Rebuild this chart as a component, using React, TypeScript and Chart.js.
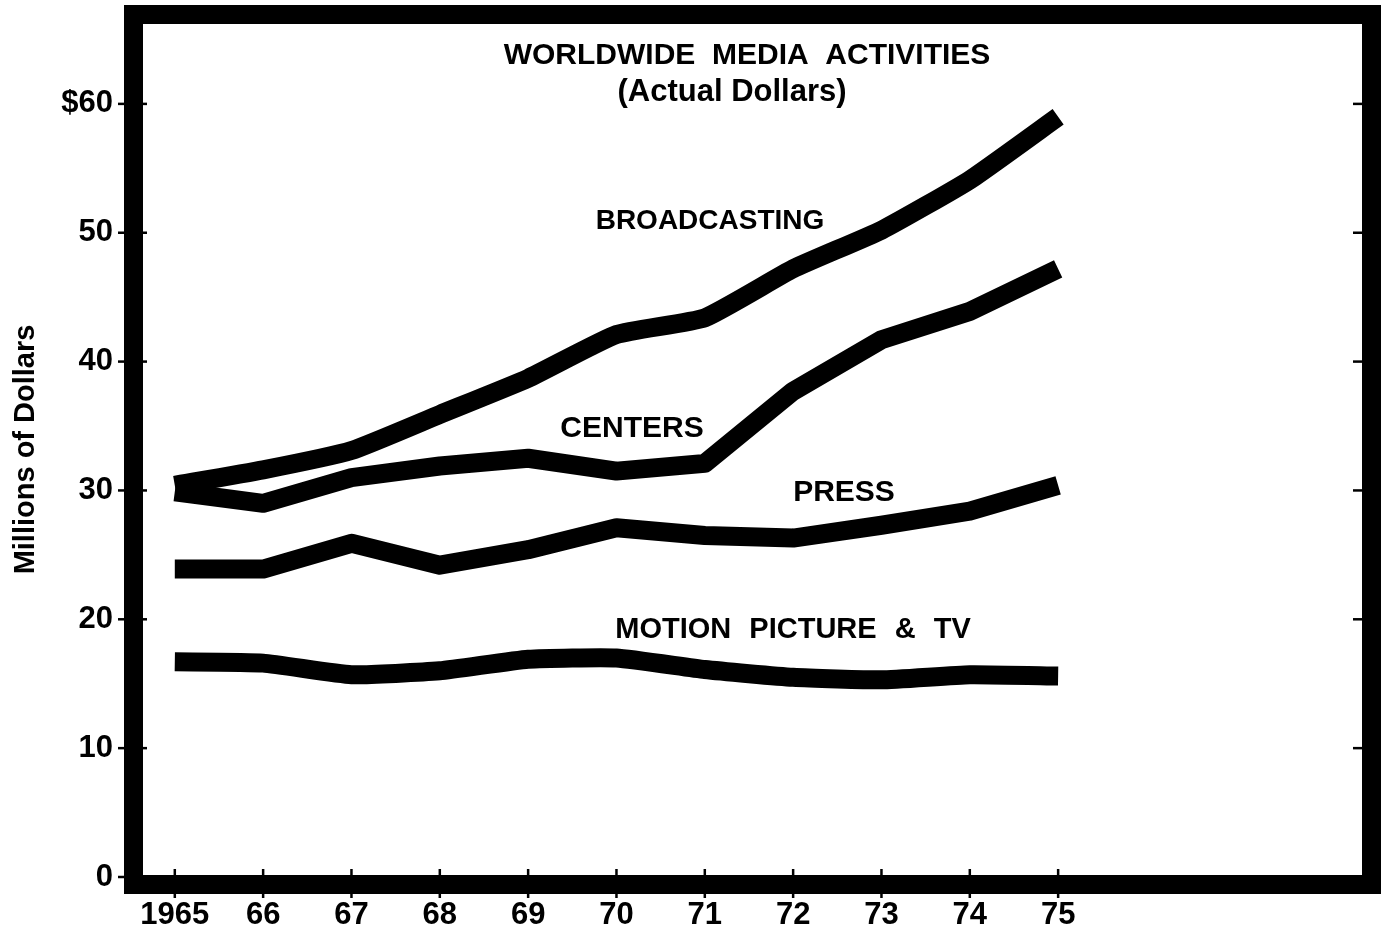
import React, { useEffect, useRef } from "react";
import { Chart, registerables } from "chart.js";

Chart.register(...registerables);

// ---------- data ----------
const years = [1965, 1966, 1967, 1968, 1969, 1970, 1971, 1972, 1973, 1974, 1975];
const yearLabels = ["1965", "66", "67", "68", "69", "70", "71", "72", "73", "74", "75"];

const broadcasting = [30.4, 31.6, 33.1, 35.9, 38.7, 42.1, 43.4, 47.2, 50.2, 54.1, 59.0];
const centers = [29.9, 29.0, 31.0, 31.9, 32.5, 31.5, 32.1, 37.7, 41.7, 43.9, 47.2];
const press = [23.9, 23.9, 25.9, 24.2, 25.4, 27.1, 26.5, 26.3, 27.3, 28.4, 30.4];
const motionPictureTv = [16.7, 16.6, 15.7, 16.0, 16.9, 17.0, 16.1, 15.5, 15.3, 15.7, 15.6];

const yTickValues = [0, 10, 20, 30, 40, 50, 60];
const yTickLabels = ["0", "10", "20", "30", "40", "50", "$60"];

const seriesNames = ["BROADCASTING", "CENTERS", "PRESS", "MOTION PICTURE & TV"];
const titleLines = ["WORLDWIDE  MEDIA  ACTIVITIES", "(Actual Dollars)"];
const yAxisTitle = "Millions of Dollars";

// ---------- layout / style (pixels) ----------
const W = 1383;
const H = 934;
const FONT = "'Liberation Sans', Arial, sans-serif";
const LINE_W = 19;
const FRAME_W = 19;

// label anchors in canvas pixels (centre x, centre y) and styles
const seriesLabelStyle = [
  { x: 710, y: 221, size: 28, wordSpacing: 0 },
  { x: 632, y: 429, size: 30, wordSpacing: 0 },
  { x: 844, y: 493, size: 30, wordSpacing: 0 },
  { x: 793, y: 630, size: 29, wordSpacing: 10 },
];
const titleStyle = [
  { x: 747, y: 56, size: 30 },
  { x: 732, y: 92, size: 31 },
];

const framePlugin = {
  id: "framePlugin",
  afterDraw(chart: any) {
    const { ctx, chartArea: a, scales } = chart;
    ctx.save();
    ctx.strokeStyle = "#000";
    ctx.fillStyle = "#000";
    ctx.lineCap = "butt";

    // tick marks
    ctx.lineWidth = 2.5;
    for (const v of yTickValues) {
      const y = scales.y.getPixelForValue(v);
      ctx.beginPath();
      ctx.moveTo(a.left - 25, y);
      ctx.lineTo(a.left + 4, y);
      ctx.stroke();
      ctx.beginPath();
      ctx.moveTo(a.right - 9, y);
      ctx.lineTo(a.right + 1, y);
      ctx.stroke();
    }
    for (const v of years) {
      const x = scales.x.getPixelForValue(v);
      ctx.beginPath();
      ctx.moveTo(x, a.bottom - 6);
      ctx.lineTo(x, a.bottom + 23);
      ctx.stroke();
    }

    // heavy frame
    ctx.lineWidth = FRAME_W;
    ctx.lineJoin = "miter";
    ctx.strokeRect(
      a.left - FRAME_W / 2,
      a.top - FRAME_W / 2,
      a.right - a.left + FRAME_W,
      a.bottom - a.top + FRAME_W
    );

    // texts
    ctx.textAlign = "center";
    ctx.textBaseline = "middle";
    titleLines.forEach((t, i) => {
      const s = titleStyle[i];
      ctx.font = `bold ${s.size}px ${FONT}`;
      ctx.fillText(t, s.x, s.y);
    });
    seriesNames.forEach((t, i) => {
      const s = seriesLabelStyle[i];
      ctx.font = `bold ${s.size}px ${FONT}`;
      (ctx as any).wordSpacing = `${s.wordSpacing}px`;
      ctx.fillText(t, s.x, s.y);
    });
    (ctx as any).wordSpacing = "0px";
    ctx.restore();
  },
};

export default function App() {
  const ref = useRef<HTMLCanvasElement | null>(null);

  useEffect(() => {
    if (!ref.current) return;
    const mk = (data: number[], tension: number) => ({
      data: years.map((x, i) => ({ x, y: data[i] })),
      borderColor: "#000",
      backgroundColor: "#000",
      borderWidth: LINE_W,
      borderCapStyle: "butt" as const,
      borderJoinStyle: "round" as const,
      pointRadius: 0,
      pointHoverRadius: 0,
      tension,
      fill: false,
    });
    const chart = new Chart(ref.current, {
      type: "line",
      data: {
        datasets: [
          { label: seriesNames[0], ...mk(broadcasting, 0.15) },
          { label: seriesNames[1], ...mk(centers, 0) },
          { label: seriesNames[2], ...mk(press, 0) },
          { label: seriesNames[3], ...mk(motionPictureTv, 0.15) },
        ],
      },
      options: {
        responsive: false,
        animation: false,
        events: [],
        layout: { padding: { top: 24, right: 21, left: 0, bottom: 0 } },
        plugins: {
          legend: { display: false },
          tooltip: { enabled: false },
          title: { display: false },
        },
        scales: {
          x: {
            type: "linear",
            min: 1964.64,
            max: 1978.44,
            grid: { display: false, drawTicks: false, tickLength: 0 },
            border: { display: false },
            afterBuildTicks: (scale: any) => {
              scale.ticks = years.map((v) => ({ value: v }));
            },
            afterFit: (scale: any) => {
              scale.height = 59;
              scale.paddingLeft = 0;
              scale.paddingRight = 0;
            },
            ticks: {
              autoSkip: false,
              maxRotation: 0,
              color: "#000",
              padding: 22,
              font: { family: FONT, size: 31, weight: "bold" },
              callback: (v: any) => {
                const i = years.indexOf(Number(v));
                return i >= 0 ? yearLabels[i] : "";
              },
            },
          },
          y: {
            type: "linear",
            min: 0.155,
            max: 66.2,
            grid: { display: false, drawTicks: false, tickLength: 0 },
            border: { display: false },
            afterBuildTicks: (scale: any) => {
              scale.ticks = yTickValues.map((v) => ({ value: v }));
            },
            afterFit: (scale: any) => {
              scale.width = 143;
              scale.paddingTop = 0;
              scale.paddingBottom = 0;
            },
            ticks: {
              color: "#000",
              padding: 30,
              font: { family: FONT, size: 31, weight: "bold" },
              callback: (v: any) => {
                const i = yTickValues.indexOf(Number(v));
                return i >= 0 ? yTickLabels[i] : "";
              },
            },
            title: {
              display: true,
              text: yAxisTitle,
              color: "#000",
              padding: { top: 9, bottom: 0 },
              font: { family: FONT, size: 29, weight: "bold" },
            },
          },
        },
      },
      plugins: [framePlugin],
    });
    return () => chart.destroy();
  }, []);

  return (
    <div style={{ position: "fixed", left: 0, top: 0, width: W, height: H, background: "#fff" }}>
      <canvas ref={ref} width={W} height={H} style={{ display: "block", width: W, height: H }} />
    </div>
  );
}
